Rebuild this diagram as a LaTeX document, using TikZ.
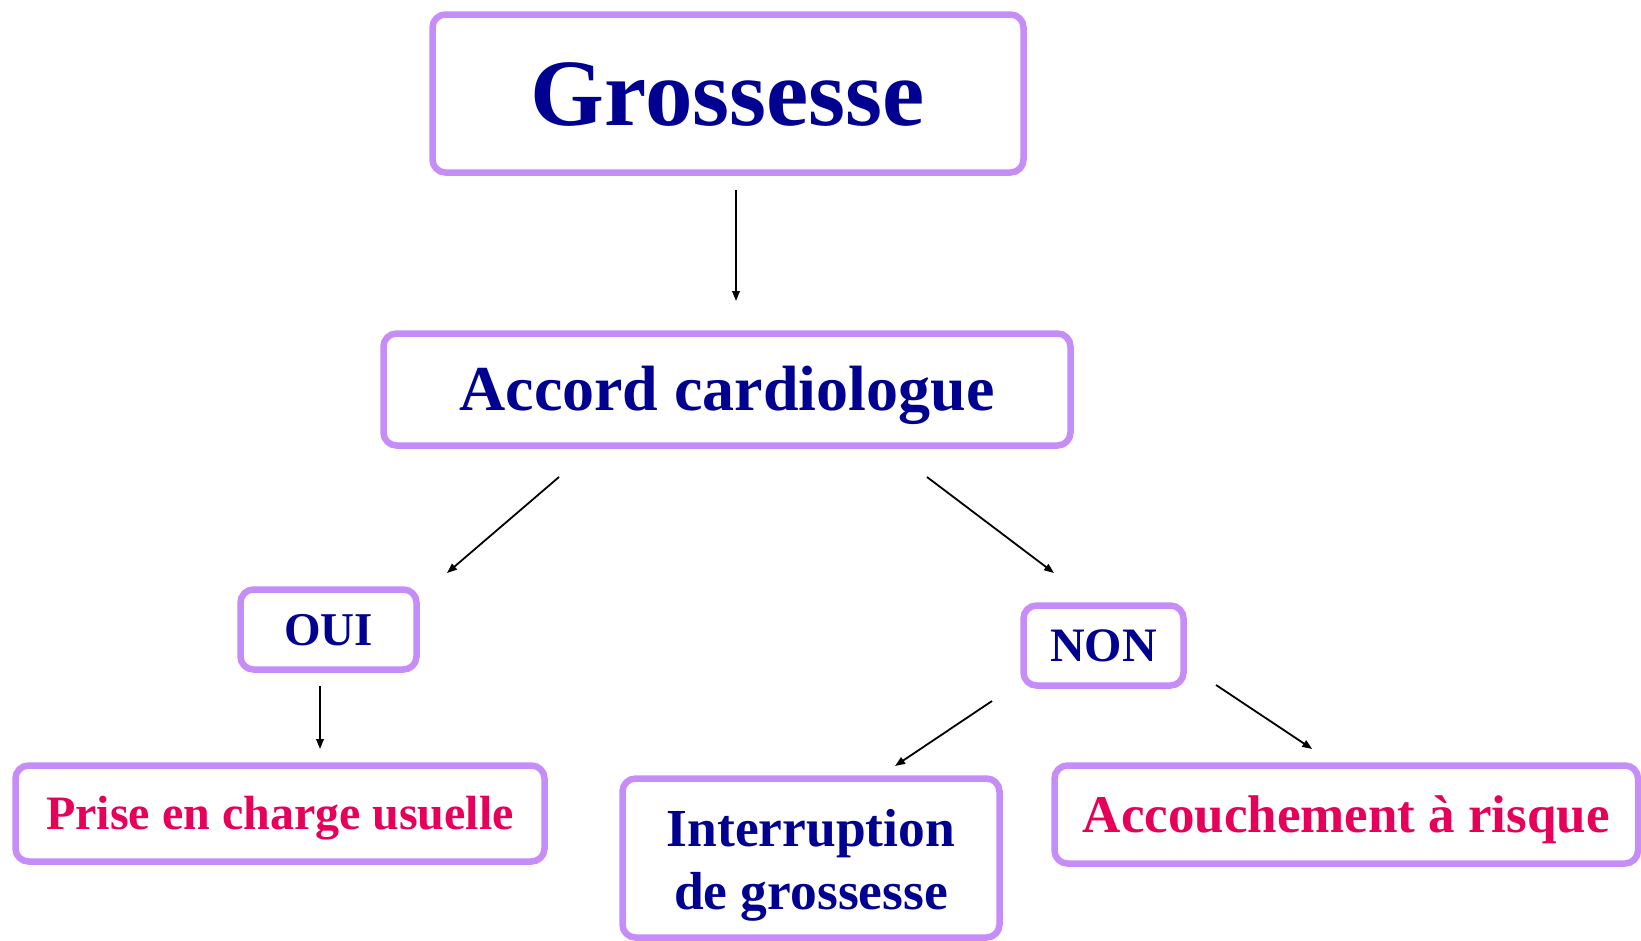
\documentclass[tikz,border=0pt]{standalone}
\usepackage{fontspec}
\setmainfont{Liberation Serif}
\usetikzlibrary{arrows.meta,calc}
\definecolor{boxborder}{RGB}{198,140,247}
\definecolor{navytxt}{RGB}{0,0,145}
\definecolor{pinktxt}{RGB}{230,0,90}
\tikzset{
  flowbox/.style={draw=boxborder, line width=6.5pt, rounded corners=13pt, fill=white,
    inner sep=0pt, outer sep=0pt, text depth=0pt},
  bluetext/.style={text=navytxt},
  pinktext/.style={text=pinktxt},
  arr/.style={line width=1.8pt, -{Triangle[length=10pt,width=7.5pt]}}
}
\begin{document}
\begin{tikzpicture}[x=1pt,y=-1pt]
\useasboundingbox (0,0) rectangle (1641,940);
\node[flowbox,bluetext,minimum width=591pt,minimum height=158pt,text height=63pt,font=\bfseries\fontsize{95}{110}\selectfont] (g) at (728,93.5) {Grossesse};
\node[flowbox,bluetext,minimum width=687pt,minimum height=112pt,text height=42pt,font=\bfseries\fontsize{64}{75}\selectfont] (a) at (727,389.5) {Accord cardiologue};
\node[flowbox,bluetext,minimum width=176pt,minimum height=80pt,text height=31pt,font=\bfseries\fontsize{47}{55}\selectfont] (oui) at (328.5,629.5) {OUI};
\node[flowbox,bluetext,minimum width=160pt,minimum height=80pt,text height=32pt,font=\bfseries\fontsize{48}{56}\selectfont] (non) at (1103.5,645.5) {NON};
\node[flowbox,pinktext,minimum width=529pt,minimum height=96pt,text height=32pt,font=\bfseries\fontsize{48}{56}\selectfont] (p) at (280,813.5) {Prise en charge usuelle};
\node[flowbox,bluetext,minimum width=377pt,minimum height=159pt,align=center,text height=103pt,text depth=1pt,font=\bfseries\fontsize{53.5}{63}\selectfont] (i) at (811,858) {Interruption\\de grossesse};
\node[flowbox,pinktext,minimum width=583.5pt,minimum height=98pt,text height=35pt,font=\bfseries\fontsize{53}{62}\selectfont] (acc) at (1346.25,814.5) {Accouchement à risque};
\draw[arr] ($(g.south)+(8,17.5)$) -- ($(a.north)+(9,-32.5)$);
\draw[arr] ($(a.south)+(-168,31.5)$) -- ($(oui.north)+(118.5,-16.5)$);
\draw[arr] ($(a.south)+(200,31.5)$) -- ($(non.north)+(-49.5,-32.5)$);
\draw[arr] ($(oui.south)+(-8.5,16.5)$) -- ($(p.north)+(40,-16.5)$);
\draw[arr] ($(non.south)+(-111.5,15.5)$) -- ($(i.north)+(84,-12.5)$);
\draw[arr] ($(non.south)+(112.5,-0.5)$) -- ($(acc.north)+(-34,-16.5)$);
\end{tikzpicture}
\end{document}
